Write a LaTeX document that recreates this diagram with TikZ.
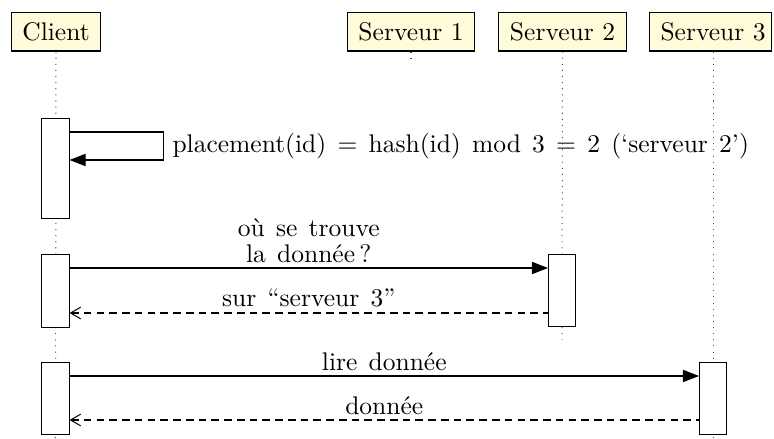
\documentclass[tikz,border=0pt]{standalone}
\usetikzlibrary{arrows.meta}

\begin{document}
\begin{tikzpicture}[x=0.392pt, y=-0.392pt,
    wide/.style={execute at begin node={\spaceskip=4.4pt plus 1pt minus 1pt}},
    thread/.style={draw, fill=yellow!15, inner xsep=4.4pt, inner ysep=0pt, minimum height=14.9pt},
    call/.style={draw, fill=white, inner sep=0pt, minimum width=10.6pt, anchor=north},
    life/.style={dotted, black!70},
    msg/.style={-{Triangle[length=6.3pt, width=4.8pt]}},
    reply/.style={{Straight Barb[length=4pt, width=4.6pt]}-, dash pattern=on 3pt off 2pt},
    over/.style={wide, above, inner sep=2pt}]

  \newcommand\pxu{0.392pt}
  \newcommand\Xc{55.5}
  \newcommand\Xa{411}
  \newcommand\Xb{562}
  \newcommand\Xd{713}

  \useasboundingbox (0,0) rectangle (774,439);

  \node[thread] (client) at (56,32) {Client};
  \node[thread] (srv1) at (411,32) {Serveur 1};
  \node[thread] (srv2) at (562.5,32) {Serveur 2};
  \node[thread, inner xsep=2.4pt] (srv3) at (710.5,32) {\hspace*{2pt}Serveur 3};

  %% lifelines
  \coordinate (client end) at (\Xc,439);
  \coordinate (srv1 end) at (\Xa,58);
  \coordinate (srv2 end) at (\Xb,340);
  \coordinate (srv3 end) at (\Xd,439);
  \draw[life] (client.south) -- (client end);
  \draw[life] (srv1.south) -- (srv1 end);
  \draw[life] (srv2.south) -- (srv2 end);
  \draw[life] (srv3.south -| srv3 end) -- (srv3 end);

  %% activations
  \node[call, minimum height=100*\pxu] (c1) at (\Xc,118) {};
  \node[call, minimum height=73*\pxu] (c2) at (\Xc,254) {};
  \node[call, minimum height=72*\pxu] (c3) at (\Xc,362) {};
  \node[call, minimum height=72*\pxu] (s2) at (\Xb,254) {};
  \node[call, minimum height=72*\pxu] (s3) at (\Xd,362) {};

  \draw[msg] ([yshift=-14*\pxu]c1.north east) -- ++(94,0) -- ++(0,28)
    node[wide, midway, right]{placement(id) $=$ hash(id) mod 3 $=$ 2 (‘serveur 2’)}
    -- ([yshift=-42*\pxu]c1.north east); %% client -> client

  \draw[msg] ([yshift=-14*\pxu]c2.north east) --
    node[over, align=center]{où se trouve\\[-1.8pt]la donnée\,?}
    ([yshift=-14*\pxu]s2.north west); %% client -> serveur 2
  \draw[reply] ([yshift=-59*\pxu]c2.north east) --
    node[over]{sur “serveur 3”} ([yshift=-59*\pxu]s2.north west); %% serveur 2 -> client

  \draw[msg] ([yshift=-14*\pxu]c3.north east) --
    node[over]{lire donnée} ([yshift=-14*\pxu]s3.north west); %% client -> serveur 3
  \draw[reply] ([yshift=-58*\pxu]c3.north east) --
    node[over]{donnée} ([yshift=-58*\pxu]s3.north west); %% serveur 3 -> client
\end{tikzpicture}
\end{document}
